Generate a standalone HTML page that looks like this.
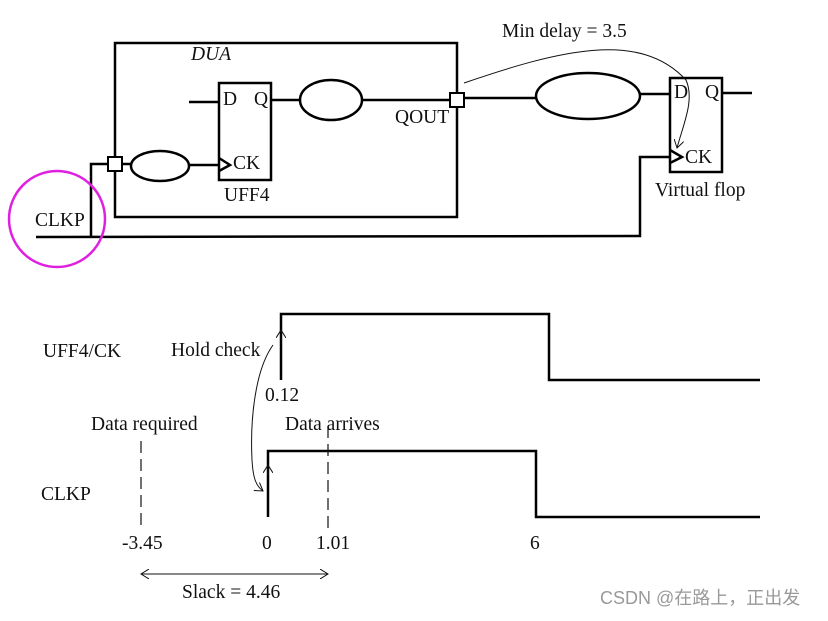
<!DOCTYPE html>
<html><head><meta charset="utf-8"><style>
body{margin:0;background:#fff}
svg text{font-family:"Liberation Serif",serif;font-size:19.5px;fill:#111}
</style></head><body>
<svg width="828" height="616" viewBox="0 0 828 616" xmlns="http://www.w3.org/2000/svg">
<defs><marker id="a" markerWidth="10" markerHeight="10" refX="8" refY="5" orient="auto" markerUnits="userSpaceOnUse"><path d="M0,0 L8,5 L0,10" fill="none" stroke="#111" stroke-width="1"/></marker></defs>
<g stroke="#000" stroke-width="2.5" fill="none">
<rect x="115" y="43" width="342" height="174"/>
<rect x="219" y="83" width="52" height="97"/>
<line x1="189" y1="102" x2="219" y2="102"/>
<line x1="271" y1="100" x2="301" y2="100"/>
<ellipse cx="331" cy="100" rx="31" ry="20"/>
<line x1="362" y1="100" x2="450" y2="100"/>
<ellipse cx="160" cy="166" rx="29" ry="15"/>
<line x1="122" y1="164" x2="131" y2="164"/>
<line x1="189" y1="165" x2="219" y2="165"/>
<polyline points="219,158 230,165 219,171"/>
<polyline points="108,164 91,164 91,237"/>
<polyline points="36,237 640,236 640,157 670,157"/>
<line x1="464" y1="98" x2="536" y2="98"/>
<ellipse cx="588" cy="96" rx="52" ry="23"/>
<line x1="640" y1="94" x2="670" y2="94"/>
<rect x="670" y="78" width="52" height="94"/>
<line x1="722" y1="93" x2="752" y2="93"/>
<polyline points="670,150 682,157 670,163"/>
<polyline points="281,380 281,314 549,314 549,380 760,380"/>
<polyline points="268,517 268,451 536,451 536,517 760,517"/>
</g>
<g stroke="#000" stroke-width="2" fill="#fff">
<rect x="108" y="157" width="14" height="14"/>
<rect x="450" y="93" width="14" height="14"/>
</g>
<circle cx="57" cy="219" r="48" fill="none" stroke="#e020e0" stroke-width="2.5"/>
<g stroke="#111" stroke-width="1" fill="none">
<path d="M464,83 C560,50 640,30 686,80 C695,100 683,125 677,148" marker-end="url(#a)"/>
<line x1="281" y1="340" x2="281" y2="330" marker-end="url(#a)"/>
<line x1="268" y1="475" x2="268" y2="465" marker-end="url(#a)"/>
<path d="M273,345 C255,370 250,420 252,460 C253,478 256,486 263,491" marker-end="url(#a)"/>
<line x1="141" y1="441" x2="141" y2="528" stroke-dasharray="12,6" stroke-width="1.2"/>
<line x1="328" y1="426" x2="328" y2="532" stroke-dasharray="12,6" stroke-width="1.2"/>
<line x1="150" y1="574" x2="328" y2="574" marker-end="url(#a)"/>
<line x1="320" y1="574" x2="141" y2="574" marker-end="url(#a)"/>
</g>
<text x="191" y="60" font-style="italic">DUA</text>
<text x="223" y="105">D</text><text x="254" y="105">Q</text>
<text x="233" y="169">CK</text><text x="224" y="201">UFF4</text>
<text x="395" y="123">QOUT</text>
<text x="35" y="226">CLKP</text>
<text x="502" y="37">Min delay = 3.5</text>
<text x="674" y="98">D</text><text x="705" y="98">Q</text>
<text x="685" y="163">CK</text>
<text x="655" y="196">Virtual flop</text>
<text x="43" y="357">UFF4/CK</text>
<text x="171" y="356">Hold check</text>
<text x="265" y="401">0.12</text>
<text x="91" y="430">Data required</text>
<text x="285" y="430">Data arrives</text>
<text x="41" y="500">CLKP</text>
<text x="122" y="549">-3.45</text>
<text x="262" y="549">0</text>
<text x="316" y="549">1.01</text>
<text x="530" y="549">6</text>
<text x="182" y="598">Slack = 4.46</text>
<text x="600" y="604" style="font-family:'Liberation Sans','Noto Sans CJK SC',sans-serif;font-size:18px;fill:#999">CSDN @在路上，正出发</text>
</svg>
</body></html>
